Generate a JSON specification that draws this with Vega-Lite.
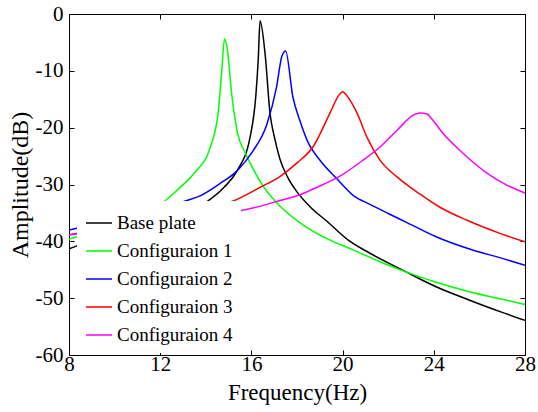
{
  "$schema": "https://vega.github.io/schema/vega-lite/v6.json",
  "width": 456,
  "height": 341,
  "autosize": {"type": "none"},
  "padding": {"left": 69, "top": 14, "right": 13, "bottom": 57},
  "background": "white",
  "config": {
    "view": {"stroke": null},
    "font": "Liberation Serif",
    "axis": {
      "grid": false,
      "domainColor": "black",
      "domainWidth": 1,
      "tickColor": "black",
      "tickSize": -5,
      "labelFont": "Liberation Serif",
      "labelFontSize": 21,
      "labelColor": "black",
      "titleFont": "Liberation Serif",
      "titleFontSize": 23,
      "titleFontWeight": "normal",
      "titleColor": "black"
    },
    "legend": {
      "labelFont": "Liberation Serif",
      "labelFontSize": 19,
      "labelColor": "black"
    }
  },
  "data": {
    "values": [
      {"f": 8, "A": -41.3, "s": "Base plate"},
      {"f": 8.35, "A": -40.8, "s": "Base plate"},
      {"f": 10, "A": -39.3, "s": "Base plate"},
      {"f": 12, "A": -36.8, "s": "Base plate"},
      {"f": 13, "A": -35.2, "s": "Base plate"},
      {"f": 14.1, "A": -32.9, "s": "Base plate"},
      {"f": 14.8, "A": -30.5, "s": "Base plate"},
      {"f": 15.37, "A": -27.6, "s": "Base plate"},
      {"f": 15.94, "A": -21.7, "s": "Base plate"},
      {"f": 16.2, "A": -14.1, "s": "Base plate"},
      {"f": 16.3, "A": -8, "s": "Base plate"},
      {"f": 16.38, "A": -1.2, "s": "Base plate"},
      {"f": 16.6, "A": -7, "s": "Base plate"},
      {"f": 16.82, "A": -17.6, "s": "Base plate"},
      {"f": 17.0, "A": -21.5, "s": "Base plate"},
      {"f": 17.25, "A": -25.5, "s": "Base plate"},
      {"f": 17.6, "A": -28.8, "s": "Base plate"},
      {"f": 18.0, "A": -31.3, "s": "Base plate"},
      {"f": 18.57, "A": -33.9, "s": "Base plate"},
      {"f": 19.35, "A": -36.6, "s": "Base plate"},
      {"f": 20.25, "A": -39.8, "s": "Base plate"},
      {"f": 21.2, "A": -42.1, "s": "Base plate"},
      {"f": 22.65, "A": -45.1, "s": "Base plate"},
      {"f": 24.1, "A": -48.0, "s": "Base plate"},
      {"f": 25.6, "A": -50.4, "s": "Base plate"},
      {"f": 27.0, "A": -52.5, "s": "Base plate"},
      {"f": 28, "A": -53.9, "s": "Base plate"},

      {"f": 8, "A": -39.6, "s": "Configuraion 1"},
      {"f": 8.35, "A": -39.2, "s": "Configuraion 1"},
      {"f": 10, "A": -37.2, "s": "Configuraion 1"},
      {"f": 11, "A": -35.5, "s": "Configuraion 1"},
      {"f": 12.2, "A": -32.9, "s": "Configuraion 1"},
      {"f": 12.8, "A": -30.8, "s": "Configuraion 1"},
      {"f": 13.45, "A": -28.2, "s": "Configuraion 1"},
      {"f": 14.2, "A": -23.4, "s": "Configuraion 1"},
      {"f": 14.55, "A": -17.1, "s": "Configuraion 1"},
      {"f": 14.7, "A": -10, "s": "Configuraion 1"},
      {"f": 14.82, "A": -4.4, "s": "Configuraion 1"},
      {"f": 14.93, "A": -5.8, "s": "Configuraion 1"},
      {"f": 15.15, "A": -14.6, "s": "Configuraion 1"},
      {"f": 15.4, "A": -21.1, "s": "Configuraion 1"},
      {"f": 15.7, "A": -24.2, "s": "Configuraion 1"},
      {"f": 15.94, "A": -26.2, "s": "Configuraion 1"},
      {"f": 16.5, "A": -30.2, "s": "Configuraion 1"},
      {"f": 17.25, "A": -33.8, "s": "Configuraion 1"},
      {"f": 18.26, "A": -37.1, "s": "Configuraion 1"},
      {"f": 19.45, "A": -39.8, "s": "Configuraion 1"},
      {"f": 20.46, "A": -41.5, "s": "Configuraion 1"},
      {"f": 21.64, "A": -43.6, "s": "Configuraion 1"},
      {"f": 22.65, "A": -45.2, "s": "Configuraion 1"},
      {"f": 24.1, "A": -47.2, "s": "Configuraion 1"},
      {"f": 25.6, "A": -48.9, "s": "Configuraion 1"},
      {"f": 27.0, "A": -50.2, "s": "Configuraion 1"},
      {"f": 28, "A": -51.1, "s": "Configuraion 1"},

      {"f": 8, "A": -38.0, "s": "Configuraion 2"},
      {"f": 8.35, "A": -37.7, "s": "Configuraion 2"},
      {"f": 10, "A": -36.5, "s": "Configuraion 2"},
      {"f": 12, "A": -34.6, "s": "Configuraion 2"},
      {"f": 13.1, "A": -32.9, "s": "Configuraion 2"},
      {"f": 13.75, "A": -32.0, "s": "Configuraion 2"},
      {"f": 14.6, "A": -29.9, "s": "Configuraion 2"},
      {"f": 15.37, "A": -27.6, "s": "Configuraion 2"},
      {"f": 16.07, "A": -24.1, "s": "Configuraion 2"},
      {"f": 16.68, "A": -19.4, "s": "Configuraion 2"},
      {"f": 17.1, "A": -12.9, "s": "Configuraion 2"},
      {"f": 17.34, "A": -7.4, "s": "Configuraion 2"},
      {"f": 17.5, "A": -6.5, "s": "Configuraion 2"},
      {"f": 17.82, "A": -14.6, "s": "Configuraion 2"},
      {"f": 18.13, "A": -18.8, "s": "Configuraion 2"},
      {"f": 18.44, "A": -22.2, "s": "Configuraion 2"},
      {"f": 19.0, "A": -25.7, "s": "Configuraion 2"},
      {"f": 19.75, "A": -29.0, "s": "Configuraion 2"},
      {"f": 20.46, "A": -31.9, "s": "Configuraion 2"},
      {"f": 21.2, "A": -33.5, "s": "Configuraion 2"},
      {"f": 22.0, "A": -35.1, "s": "Configuraion 2"},
      {"f": 22.82, "A": -36.7, "s": "Configuraion 2"},
      {"f": 24.1, "A": -39.2, "s": "Configuraion 2"},
      {"f": 25.6, "A": -41.4, "s": "Configuraion 2"},
      {"f": 27.0, "A": -43.0, "s": "Configuraion 2"},
      {"f": 28, "A": -44.2, "s": "Configuraion 2"},

      {"f": 8, "A": -38.8, "s": "Configuraion 3"},
      {"f": 8.35, "A": -38.6, "s": "Configuraion 3"},
      {"f": 10, "A": -37.6, "s": "Configuraion 3"},
      {"f": 12, "A": -36.2, "s": "Configuraion 3"},
      {"f": 14, "A": -34.4, "s": "Configuraion 3"},
      {"f": 15.2, "A": -32.9, "s": "Configuraion 3"},
      {"f": 16.38, "A": -30.5, "s": "Configuraion 3"},
      {"f": 17.25, "A": -28.6, "s": "Configuraion 3"},
      {"f": 18.0, "A": -26.2, "s": "Configuraion 3"},
      {"f": 18.7, "A": -23.4, "s": "Configuraion 3"},
      {"f": 19.45, "A": -17.4, "s": "Configuraion 3"},
      {"f": 19.85, "A": -14.2, "s": "Configuraion 3"},
      {"f": 20.0, "A": -13.7, "s": "Configuraion 3"},
      {"f": 20.15, "A": -14.2, "s": "Configuraion 3"},
      {"f": 20.63, "A": -17.4, "s": "Configuraion 3"},
      {"f": 21.07, "A": -21.7, "s": "Configuraion 3"},
      {"f": 21.64, "A": -25.7, "s": "Configuraion 3"},
      {"f": 22.4, "A": -28.7, "s": "Configuraion 3"},
      {"f": 23.4, "A": -31.7, "s": "Configuraion 3"},
      {"f": 24.27, "A": -34.0, "s": "Configuraion 3"},
      {"f": 25.46, "A": -36.3, "s": "Configuraion 3"},
      {"f": 26.9, "A": -38.6, "s": "Configuraion 3"},
      {"f": 28, "A": -40.1, "s": "Configuraion 3"},

      {"f": 8, "A": -38.9, "s": "Configuraion 4"},
      {"f": 8.35, "A": -38.7, "s": "Configuraion 4"},
      {"f": 10, "A": -37.9, "s": "Configuraion 4"},
      {"f": 12, "A": -36.9, "s": "Configuraion 4"},
      {"f": 14, "A": -35.6, "s": "Configuraion 4"},
      {"f": 15.4, "A": -34.7, "s": "Configuraion 4"},
      {"f": 16.68, "A": -33.5, "s": "Configuraion 4"},
      {"f": 17.25, "A": -32.8, "s": "Configuraion 4"},
      {"f": 18.13, "A": -31.8, "s": "Configuraion 4"},
      {"f": 18.7, "A": -30.8, "s": "Configuraion 4"},
      {"f": 19.9, "A": -28.5, "s": "Configuraion 4"},
      {"f": 20.9, "A": -25.7, "s": "Configuraion 4"},
      {"f": 21.64, "A": -23.4, "s": "Configuraion 4"},
      {"f": 22.4, "A": -20.4, "s": "Configuraion 4"},
      {"f": 23.1, "A": -17.8, "s": "Configuraion 4"},
      {"f": 23.4, "A": -17.4, "s": "Configuraion 4"},
      {"f": 23.7, "A": -17.6, "s": "Configuraion 4"},
      {"f": 23.96, "A": -18.7, "s": "Configuraion 4"},
      {"f": 24.4, "A": -21.0, "s": "Configuraion 4"},
      {"f": 25.28, "A": -24.5, "s": "Configuraion 4"},
      {"f": 26.33, "A": -28.0, "s": "Configuraion 4"},
      {"f": 27.2, "A": -30.1, "s": "Configuraion 4"},
      {"f": 28, "A": -31.5, "s": "Configuraion 4"}
    ]
  },
  "layer": [
    {
      "mark": {"type": "line", "strokeWidth": 1.5, "clip": true, "interpolate": "monotone"},
      "encoding": {
        "x": {
          "field": "f", "type": "quantitative",
          "scale": {"domain": [8, 28], "nice": false, "zero": false},
          "axis": {"orient": "bottom", "values": [8, 12, 16, 20, 24, 28], "title": "Frequency(Hz)", "labelPadding": 3, "titlePadding": 7, "labelFlush": false}
        },
        "y": {
          "field": "A", "type": "quantitative",
          "scale": {"domain": [-60, 0], "nice": false, "zero": false},
          "axis": {"orient": "left", "values": [-60, -50, -40, -30, -20, -10, 0], "title": "Amplitude(dB)", "labelPadding": 11, "titlePadding": 3, "titleFontSize": 24,
                   "labelExpr": "datum.value < 0 ? '-' + abs(datum.value) : '' + datum.value"}
        },
        "color": {
          "field": "s", "type": "nominal",
          "scale": {
            "domain": ["Base plate", "Configuraion 1", "Configuraion 2", "Configuraion 3", "Configuraion 4"],
            "range": ["#000000", "#00ff00", "#0000ff", "#ff0000", "#ff00ff"]
          },
          "legend": {
            "title": null,
            "orient": "none",
            "legendX": 8,
            "legendY": 187,
            "fillColor": "white",
            "strokeColor": null,
            "padding": 8,
            "symbolType": "stroke",
            "symbolSize": 676,
            "symbolStrokeWidth": 1.5,
            "labelOffset": 4,
            "rowPadding": 4
          }
        }
      }
    },
    {
      "mark": {"type": "line", "strokeOpacity": 0},
      "encoding": {
        "x": {
          "field": "f", "type": "quantitative",
          "axis": {"orient": "top", "values": [8, 12, 16, 20, 24, 28], "labels": false, "title": null}
        },
        "y": {
          "field": "A", "type": "quantitative",
          "axis": {"orient": "right", "values": [-60, -50, -40, -30, -20, -10, 0], "labels": false, "title": null}
        },
        "detail": {"field": "s", "type": "nominal"}
      }
    }
  ],
  "resolve": {"axis": {"x": "independent", "y": "independent"}}
}
